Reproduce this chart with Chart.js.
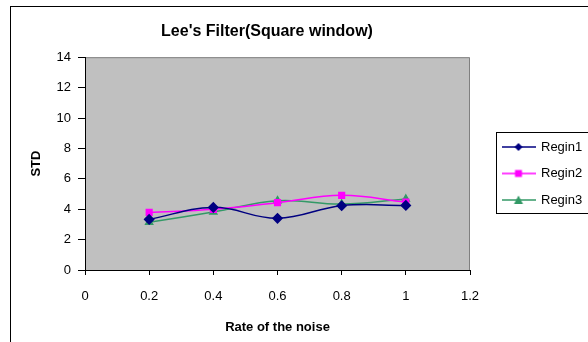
<!DOCTYPE html>
<html>
<head>
<meta charset="utf-8">
<script src="https://cdn.jsdelivr.net/npm/chart.js@4"></script>
<style>
  html, body { margin: 0; padding: 0; background: #fff; }
  #wrap { width: 588px; height: 342px; }
</style>
</head>
<body>
<div id="wrap"><canvas id="myChart" width="588" height="342"></canvas></div>
<script>
const rates = [0.2, 0.4, 0.6, 0.8, 1.0];
const regin1 = [3.33, 4.12, 3.40, 4.23, 4.25];
const regin2 = [3.79, 3.99, 4.43, 4.91, 4.47];
const regin3 = [3.14, 3.82, 4.56, 4.34, 4.67];
const seriesNames = ['Regin1', 'Regin2', 'Regin3'];

Chart.defaults.font.family = "'Liberation Sans', Arial, sans-serif";
Chart.defaults.color = '#000';

function pts(values) {
  return values.map((v, i) => ({ x: rates[i], y: v }));
}

// little line+marker icons for the legend
function legendIcon(color, style) {
  const c = document.createElement('canvas');
  c.width = 34; c.height = 12;
  const g = c.getContext('2d');
  g.strokeStyle = color; g.lineWidth = 1.5;
  g.beginPath(); g.moveTo(0, 6); g.lineTo(34, 6); g.stroke();
  g.fillStyle = color;
  g.beginPath();
  if (style === 'rectRot') {
    g.moveTo(17, 2); g.lineTo(21, 6); g.lineTo(17, 10); g.lineTo(13, 6);
  } else if (style === 'rect') {
    g.rect(13.5, 2.5, 7, 7);
  } else {
    g.moveTo(17, 1.5); g.lineTo(21.5, 10); g.lineTo(12.5, 10);
  }
  g.closePath(); g.fill();
  return c;
}

const colors = ['#000080', '#FF00FF', '#339966'];
const styles = ['rectRot', 'rect', 'triangle'];
const icons = colors.map((c, i) => legendIcon(c, styles[i]));

const frame = {
  id: 'frame',
  beforeDraw(chart) {
    const { ctx, chartArea: a } = chart;
    ctx.save();
    ctx.fillStyle = '#fff';
    ctx.fillRect(0, 0, chart.width, chart.height);
    ctx.strokeStyle = '#000';
    ctx.lineWidth = 1;
    ctx.strokeRect(10.5, 6.5, 700, 400);
    ctx.fillStyle = '#C0C0C0';
    ctx.fillRect(a.left, a.top, a.right - a.left, a.bottom - a.top);
    ctx.strokeStyle = '#808080';
    ctx.beginPath();
    ctx.moveTo(a.left, a.top + 0.5); ctx.lineTo(a.right - 0.5, a.top + 0.5); ctx.lineTo(a.right - 0.5, a.bottom);
    ctx.stroke();
    ctx.restore();
  },
  afterLayout(chart) {
    const t = chart.titleBlock;
    t.left = 10; t.right = 524; t.width = 514;
    const lg = chart.legend;
    lg.left = 489; lg.right = 588; lg.top = 127; lg.bottom = 330;
    lg.width = 99; lg.height = 203;
  },
  afterDraw(chart) {
    const ctx = chart.ctx;
    ctx.save();
    ctx.strokeStyle = '#000';
    ctx.lineWidth = 1;
    ctx.strokeRect(496.5, 132.5, 200, 81);
    ctx.restore();
  }
};

const sets = [regin1, regin2, regin3].map((vals, i) => ({
  label: seriesNames[i],
  data: pts(vals),
  borderColor: colors[i],
  backgroundColor: colors[i],
  borderWidth: 1.5,
  pointStyle: styles[i],
  pointRadius: i === 0 ? 4.5 : 4,
  pointHoverRadius: 4,
  tension: 0.4
}));

new Chart(document.getElementById('myChart'), {
  type: 'line',
  data: { datasets: sets },
  options: {
    responsive: false,
    animation: false,
    layout: { padding: { left: 10, right: 118, top: 0, bottom: 0 } },
    plugins: {
      title: {
        display: true,
        text: "Lee's Filter(Square window)",
        font: { size: 16, weight: 'bold', lineHeight: 1.2 },
        padding: { top: 22, bottom: 16 }
      },
      legend: {
        position: 'chartArea',
        align: 'start',
        labels: {
          usePointStyle: true,
          pointStyleWidth: 32,
          padding: 13.5,
          font: { size: 13 },
          generateLabels(chart) {
            const items = Chart.defaults.plugins.legend.labels.generateLabels(chart);
            items.forEach((it, i) => { it.pointStyle = icons[i]; });
            return items;
          }
        }
      },
      tooltip: { enabled: false }
    },
    scales: {
      x: {
        type: 'linear',
        min: 0, max: 1.2,
        ticks: {
          stepSize: 0.2, padding: 14, font: { size: 13 },
          callback: (v) => String(Number(v.toFixed(1)))
        },
        grid: { drawOnChartArea: false, tickLength: 5, color: '#000' },
        border: { color: '#000' },
        title: { display: true, text: 'Rate of the noise', font: { size: 13, weight: 'bold' }, padding: { top: 0, bottom: 7 } },
        afterFit(s) { s.height = 72; }
      },
      y: {
        min: 0, max: 14,
        ticks: { stepSize: 2, padding: 7, font: { size: 13 } },
        grid: { drawOnChartArea: false, tickLength: 7, color: '#000' },
        border: { color: '#000' },
        title: { display: true, text: 'STD', font: { size: 13, weight: 'bold' }, padding: { top: 19, bottom: 0 } },
        afterFit(s) { s.width = 75; }
      }
    }
  },
  plugins: [frame]
});
</script>
</body>
</html>
